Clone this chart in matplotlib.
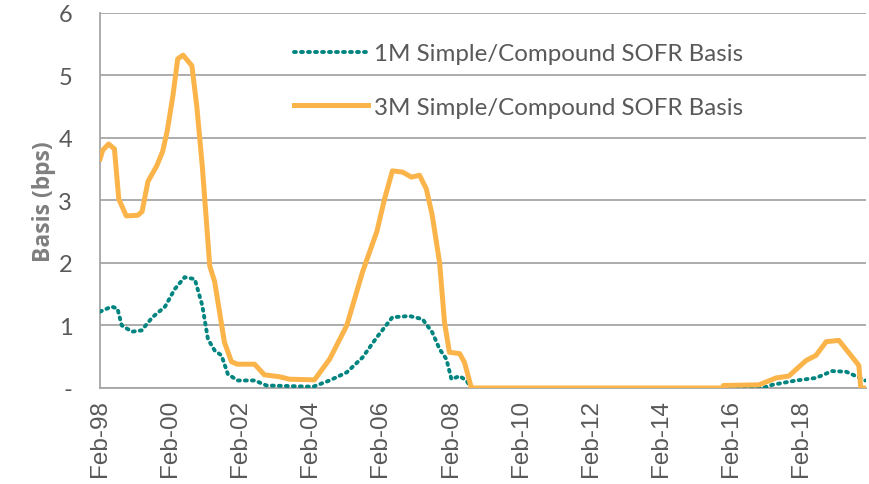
import matplotlib
matplotlib.use("Agg")
import matplotlib.pyplot as plt
import matplotlib.dates as mdates
import pandas as pd

# 3M simple/compound SOFR basis (bps)
dates_3m = ["1998-02-01", "1998-03-01", "1998-05-01", "1998-07-01", "1998-08-15",
            "1998-11-01", "1999-03-01", "1999-04-15", "1999-06-15", "1999-09-15",
            "1999-11-15", "2000-01-01", "2000-03-01", "2000-04-20", "2000-06-15",
            "2000-09-15", "2000-11-05", "2001-01-01", "2001-03-20", "2001-05-10",
            "2001-08-20", "2001-11-01", "2002-01-01", "2002-06-30", "2002-10-10",
            "2003-03-15", "2003-06-30", "2004-03-15", "2004-08-20", "2005-02-15",
            "2005-07-30", "2005-12-25", "2006-03-15", "2006-06-05", "2006-09-20",
            "2006-12-20", "2007-03-15", "2007-05-25", "2007-07-25", "2007-10-10",
            "2007-11-30", "2008-01-20", "2008-05-05", "2008-06-25", "2008-09-05",
            "2015-10-30", "2015-11-15", "2016-11-20", "2017-05-15", "2017-09-25",
            "2018-03-25", "2018-07-05", "2018-10-20", "2019-03-01", "2019-07-05",
            "2019-09-25", "2019-10-15", "2019-12-01"]
basis_3m = [3.66, 3.80, 3.90, 3.82, 3.02,
            2.75, 2.76, 2.82, 3.30, 3.55,
            3.78, 4.10, 4.67, 5.26, 5.32,
            5.15, 4.50, 3.55, 1.95, 1.70,
            0.73, 0.42, 0.38, 0.38, 0.21,
            0.18, 0.14, 0.13, 0.46, 1.00,
            1.86, 2.50, 3.02, 3.47, 3.45,
            3.37, 3.40, 3.18, 2.76, 2.00,
            1.05, 0.57, 0.55, 0.41, 0.00,
            0.00, 0.04, 0.05, 0.16, 0.19,
            0.44, 0.52, 0.74, 0.76, 0.52,
            0.36, 0.00, 0.00]

# 1M simple/compound SOFR basis (bps)
dates_1m = ["1998-02-01", "1998-06-01", "1998-08-01", "1998-09-15", "1998-12-31",
            "1999-04-10", "1999-08-01", "1999-12-10", "2000-03-20", "2000-07-01",
            "2000-10-15", "2001-01-01", "2001-03-01", "2001-05-10", "2001-07-20",
            "2001-09-25", "2002-01-05", "2002-07-01", "2002-11-01", "2004-03-01",
            "2004-08-20", "2005-02-15", "2005-07-30", "2005-12-25", "2006-06-05",
            "2006-12-01", "2007-04-15", "2007-07-25", "2007-10-10", "2007-12-20",
            "2008-02-10", "2008-05-05", "2008-07-15", "2008-09-01", "2016-12-31",
            "2017-04-05", "2017-12-10", "2018-07-05", "2018-12-20", "2019-05-15",
            "2019-08-25", "2019-12-01"]
basis_1m = [1.22, 1.30, 1.27, 1.00, 0.90,
            0.92, 1.13, 1.30, 1.58, 1.77,
            1.74, 1.32, 0.78, 0.60, 0.52,
            0.22, 0.12, 0.12, 0.04, 0.02,
            0.12, 0.25, 0.49, 0.81, 1.13,
            1.15, 1.10, 0.89, 0.62, 0.46,
            0.14, 0.19, 0.12, 0.00, 0.00,
            0.05, 0.12, 0.16, 0.27, 0.26,
            0.19, 0.12]

y_ticks = [0, 1, 2, 3, 4, 5, 6]
y_tick_labels = ["-", "1", "2", "3", "4", "5", "6"]

d3 = pd.to_datetime(dates_3m)
d1 = pd.to_datetime(dates_1m)

grey = "#595959"
fig, ax = plt.subplots(figsize=(8.7, 4.85), dpi=100)
fig.subplots_adjust(left=0.115, right=0.995, top=0.972, bottom=0.198)

ax.plot(d1, basis_1m, color="#00847F", lw=2.8, ls=(0, (0.5, 1.3)),
        dash_capstyle="round", label="1M Simple/Compound SOFR Basis", zorder=3)
ax.plot(d3, basis_3m, color="#FBB44A", lw=3.6, solid_joinstyle="round",
        label="3M Simple/Compound SOFR Basis", zorder=4)

ax.set_xlim(pd.Timestamp("1998-02-01"), pd.Timestamp("2019-12-05"))
ax.set_ylim(0, 6)
ax.set_yticks(y_ticks)
ax.set_yticklabels(y_tick_labels, fontfamily="Lato", fontsize=17, color=grey)
ax.yaxis.grid(True, color="#A6A6A6", lw=1.3)
ax.set_axisbelow(True)

ax.xaxis.set_major_locator(mdates.YearLocator(2, month=2, day=1))
ax.xaxis.set_major_formatter(mdates.DateFormatter("%b-%y"))
for lbl in ax.get_xticklabels():
    lbl.set_rotation(90)
    lbl.set_fontfamily("Liberation Sans")
    lbl.set_fontsize(17.5)
    lbl.set_color(grey)
ax.tick_params(axis="x", length=0, pad=8)
ax.tick_params(axis="y", length=0, pad=20)

for s in ["top", "right"]:
    ax.spines[s].set_visible(False)
for s in ["left", "bottom"]:
    ax.spines[s].set_color("#A6A6A6")
    ax.spines[s].set_linewidth(1.3)

ax.set_ylabel("Basis (bps)", fontfamily="Open Sans", fontweight="bold",
              fontsize=16.5, color="#7F7F7F", labelpad=2)

leg = ax.legend(loc="upper left", bbox_to_anchor=(0.225, 0.977), frameon=False,
                prop={"family": "Lato", "size": 17.4}, handlelength=3.05,
                labelspacing=1.36, handletextpad=0.25)
for t in leg.get_texts():
    t.set_color(grey)

fig.savefig("out.png", dpi=100)
